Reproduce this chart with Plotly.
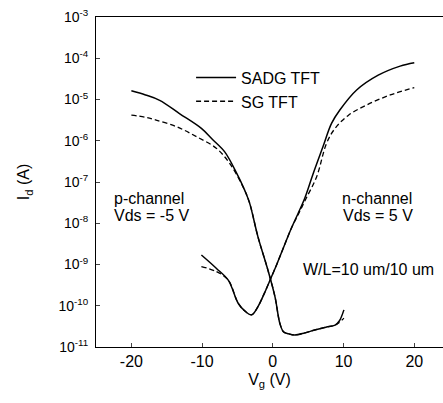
import plotly.graph_objects as go

# ---- data, log10(Id / A) ----
vg_sadg_p = [-20, -18, -16, -13.2, -10.1, -8.45, -6.8, -5.1, -4.0, -3.3, -2.1, -0.7, 0.3, 1.0, 1.5, 2.2, 3.1, 4.5, 5.9, 7.5, 8.8, 9.4, 10.05]
log_sadg_p = [-4.79, -4.89, -5.02, -5.34, -5.70, -5.98, -6.27, -6.79, -7.19, -7.50, -8.33, -9.13, -9.78, -10.43, -10.63, -10.68, -10.71, -10.66, -10.59, -10.52, -10.47, -10.37, -10.10]

vg_sg_p = [-20, -18, -16.5, -13.6, -10.8, -8.0, -6.1, -4.2, -3.3, -2.1, -0.7, 0.3, 1.0, 1.5, 2.2, 3.1, 4.5, 5.9, 7.5, 8.8, 9.3, 10.05]
log_sg_p = [-5.38, -5.43, -5.50, -5.66, -5.90, -6.18, -6.55, -7.12, -7.50, -8.33, -9.13, -9.78, -10.43, -10.63, -10.68, -10.71, -10.66, -10.59, -10.52, -10.47, -10.42, -10.30]

vg_sadg_n = [-10.1, -8.0, -6.3, -4.9, -4.0, -3.0, -2.1, -1.2, -0.4, 0.6, 1.6, 2.65, 3.6, 4.5, 5.7, 7.1, 8.3, 9.5, 11.85, 14.9, 18.0, 20.0]
log_sadg_n = [-8.77, -9.09, -9.38, -9.94, -10.12, -10.22, -10.02, -9.70, -9.38, -8.98, -8.55, -8.11, -7.75, -7.40, -6.80, -6.14, -5.58, -5.25, -4.77, -4.41, -4.19, -4.11]

vg_sg_n = [-10.1, -8.0, -6.3, -4.9, -4.0, -3.0, -2.1, -1.2, -0.4, 0.6, 1.6, 2.65, 3.7, 4.7, 6.2, 7.6, 8.8, 10.7, 13.3, 16.6, 20.0]
log_sg_n = [-9.05, -9.17, -9.38, -9.94, -10.12, -10.22, -10.02, -9.70, -9.38, -8.98, -8.55, -8.11, -7.75, -7.40, -6.87, -6.06, -5.70, -5.38, -5.13, -4.89, -4.71]

ytick_exp = [-11, -10, -9, -8, -7, -6, -5, -4, -3]
xtick_vals = [-20, -10, 0, 10, 20]
xtick_text = ["-20", "-10", "0", "10", "20"]

FONT = "Liberation Sans, Arial, sans-serif"
FS = 16

def to_a(logs):
    return [10 ** v for v in logs]

solid = dict(color="black", width=1.5)
dashed = dict(color="black", width=1.3, dash="5px,3px")

fig = go.Figure()
fig.add_trace(go.Scatter(x=vg_sadg_p, y=to_a(log_sadg_p), mode="lines", line=solid,
                         name="SADG TFT", legendgroup="sadg", line_shape="spline"))
fig.add_trace(go.Scatter(x=vg_sg_p, y=to_a(log_sg_p), mode="lines", line=dashed,
                         name="SG TFT", legendgroup="sg", line_shape="spline"))
fig.add_trace(go.Scatter(x=vg_sadg_n, y=to_a(log_sadg_n), mode="lines", line=solid,
                         name="SADG TFT", legendgroup="sadg", showlegend=False, line_shape="spline"))
fig.add_trace(go.Scatter(x=vg_sg_n, y=to_a(log_sg_n), mode="lines", line=dashed,
                         name="SG TFT", legendgroup="sg", showlegend=False, line_shape="spline"))

ann = dict(showarrow=False, xref="x", yref="y", xanchor="left", yanchor="middle",
           font=dict(family=FONT, size=FS, color="black"), align="left")
fig.add_annotation(x=-22.8, y=-7.41, text="p-channel", **ann)
fig.add_annotation(x=-22.8, y=-7.80, text="Vds = -5 V", **ann)
fig.add_annotation(x=9.45, y=-7.41, text="n-channel", **ann)
fig.add_annotation(x=9.7, y=-7.80, text="Vds = 5 V", **ann)
fig.add_annotation(x=4.05, y=-9.13, text="W/L=10 um/10 um", **ann)

fig.update_layout(
    width=443, height=403,
    margin=dict(l=96, r=0, t=17, b=56, autoexpand=False),
    paper_bgcolor="white", plot_bgcolor="white",
    font=dict(family=FONT, size=FS, color="black"),
    showlegend=True,
    legend=dict(x=0.274, y=0.868, xanchor="left", yanchor="top",
                bgcolor="rgba(0,0,0,0)", font=dict(family=FONT, size=FS),
                tracegroupgap=0, itemwidth=40),
    xaxis=dict(range=[-25, 24.06], tickvals=xtick_vals, ticktext=xtick_text,
               ticks="inside", ticklen=4, automargin=False,
               showline=True, linecolor="black", linewidth=1, mirror=True,
               showgrid=False, zeroline=False,
               title=dict(text="V<sub>g</sub> (V)", font=dict(size=FS), standoff=4),
               tickfont=dict(size=FS)),
    yaxis=dict(type="log", range=[-11, -3], automargin=False,
               tickvals=[10 ** e for e in ytick_exp],
               ticktext=["10<sup>%d</sup>" % e for e in ytick_exp],
               ticks="inside", ticklen=4, ticklabelstandoff=4,
               showline=True, linecolor="black", linewidth=1, mirror=False,
               showgrid=False, zeroline=False,
               title=dict(text="I<sub>d</sub> (A)", font=dict(size=FS), standoff=24),
               tickfont=dict(size=14)),
)

fig.write_html("out.html", post_script="document.body.style.margin='0px';",
               config={"displayModeBar": False})
